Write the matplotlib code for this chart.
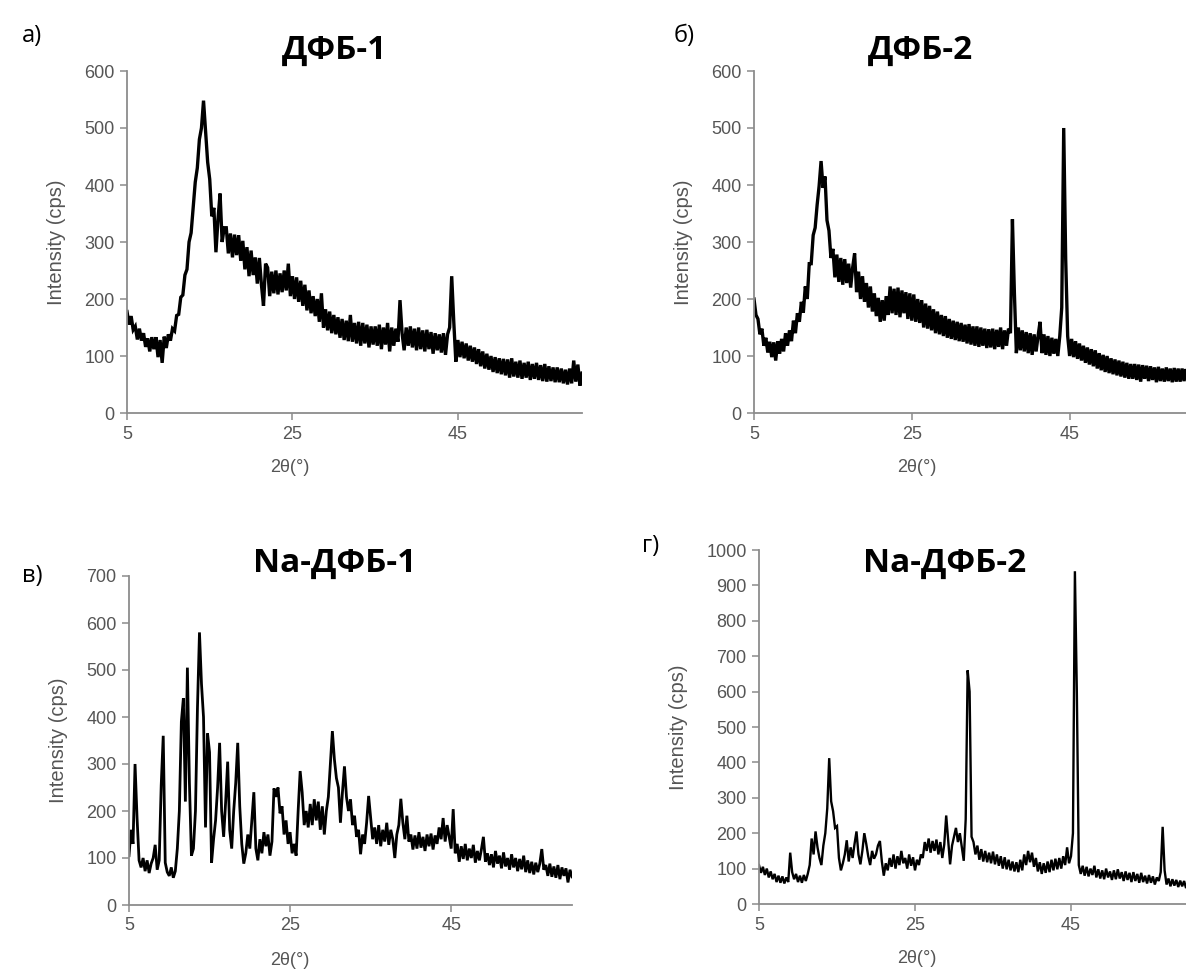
import matplotlib
matplotlib.use("Agg")
import matplotlib.pyplot as plt
import numpy as np

W, H = 1186, 972

# scan grid, deg 2theta
two_theta = np.round(np.arange(5.0, 60.001, 0.25), 2)

# intensities (cps), one row = 2 degrees
dfb1 = [
    178, 155, 170, 146, 152, 129, 148, 127,   # 5
    140, 116, 131, 108, 133, 112, 133, 98,    # 7
    128, 88, 134, 114, 138, 127, 148, 144,    # 9
    171, 173, 203, 207, 242, 252, 300, 316,   # 11
    360, 405, 430, 480, 500, 548, 495, 440,   # 13
    410, 345, 360, 282, 340, 385, 300, 325,   # 15
    325, 280, 315, 273, 313, 277, 312, 267,   # 17
    302, 252, 291, 240, 285, 242, 273, 227,   # 19
    272, 225, 188, 262, 255, 205, 248, 210,   # 21
    250, 208, 245, 212, 250, 215, 262, 205,   # 23
    240, 200, 238, 195, 232, 188, 225, 180,   # 25
    215, 175, 205, 170, 200, 160, 210, 150,   # 27
    182, 145, 178, 140, 172, 138, 168, 132,   # 29
    165, 128, 162, 126, 172, 125, 158, 122,   # 31
    160, 118, 158, 122, 155, 115, 152, 120,   # 33
    152, 118, 155, 112, 150, 120, 158, 108,   # 35
    150, 118, 148, 125, 198, 140, 110, 150,   # 37
    118, 152, 115, 148, 110, 150, 112, 145,   # 39
    108, 146, 112, 142, 104, 140, 110, 138,   # 41
    106, 140, 102, 138, 150, 240, 160, 90,    # 43
    128, 98, 125, 96, 122, 92, 118, 90,       # 45
    115, 86, 112, 82, 108, 78, 104, 76,       # 47
    100, 72, 98, 70, 96, 68, 95, 66,          # 49
    94, 62, 96, 64, 90, 62, 92, 60,           # 51
    88, 62, 90, 58, 86, 60, 88, 58,           # 53
    84, 56, 86, 55, 82, 56, 80, 54,           # 55
    80, 54, 78, 52, 76, 50, 78, 52,           # 57
    92, 55, 85, 48, 70,                       # 59
]

dfb2 = [
    200, 172, 165, 138, 148, 118, 132, 106,   # 5
    125, 98, 124, 92, 126, 104, 130, 108,     # 7
    140, 118, 145, 126, 162, 140, 175, 160,   # 9
    195, 176, 222, 200, 262, 262, 312, 325,   # 11
    365, 398, 442, 395, 415, 338, 320, 272,   # 13
    288, 238, 278, 230, 272, 225, 270, 228,   # 15
    262, 220, 255, 280, 212, 248, 200, 240,   # 17
    195, 228, 185, 222, 178, 210, 170, 202,   # 19
    160, 198, 162, 205, 172, 222, 175, 218,   # 21
    172, 220, 168, 215, 175, 212, 165, 210,   # 23
    162, 208, 160, 200, 158, 198, 150, 192,   # 25
    148, 188, 145, 182, 140, 178, 138, 172,   # 27
    135, 170, 132, 165, 130, 162, 128, 160,   # 29
    126, 158, 125, 155, 122, 156, 120, 152,   # 31
    118, 152, 116, 150, 118, 148, 114, 147,   # 33
    115, 148, 112, 146, 116, 150, 112, 145,   # 35
    118, 148, 140, 340, 210, 105, 150, 110,   # 37
    145, 108, 142, 105, 140, 102, 138, 108,   # 39
    135, 160, 105, 138, 102, 135, 100, 132,   # 41
    104, 130, 100, 135, 185, 500, 270, 135,   # 43
    100, 130, 98, 126, 95, 122, 92, 118,      # 45
    88, 115, 85, 112, 82, 110, 78, 105,       # 47
    75, 102, 72, 100, 70, 96, 68, 94,         # 49
    66, 92, 64, 90, 62, 88, 60, 86,           # 51
    60, 86, 58, 85, 55, 84, 60, 83,           # 53
    56, 82, 58, 80, 54, 81, 56, 78,           # 55
    55, 80, 56, 78, 54, 79, 55, 78,           # 57
    55, 78, 56, 77, 58,                       # 59
]

na_dfb1 = [
    105, 160, 130, 300, 185, 95, 80, 100,     # 5
    72, 95, 68, 88, 100, 128, 75, 95,         # 7
    255, 360, 90, 70, 62, 80, 58, 72,         # 9
    120, 200, 390, 440, 220, 505, 260, 105,   # 11
    120, 200, 420, 580, 470, 400, 165, 365,   # 13
    325, 90, 140, 180, 250, 345, 200, 145,    # 15
    220, 305, 160, 120, 200, 260, 345, 210,   # 17
    130, 88, 110, 150, 120, 180, 240, 120,    # 19
    95, 140, 110, 155, 125, 150, 105, 135,    # 21
    248, 230, 250, 195, 210, 150, 180, 130,   # 23
    155, 110, 130, 105, 200, 285, 240, 170,   # 25
    200, 165, 215, 170, 225, 180, 220, 160,   # 27
    210, 150, 200, 230, 300, 370, 310, 270,   # 29
    250, 175, 240, 295, 230, 200, 225, 170,   # 31
    190, 145, 160, 108, 150, 130, 175, 232,   # 33
    185, 140, 165, 130, 170, 125, 160, 135,   # 35
    175, 128, 160, 140, 100, 150, 170, 226,   # 37
    175, 140, 190, 135, 150, 118, 148, 120,   # 39
    155, 122, 145, 115, 150, 125, 152, 118,   # 41
    148, 130, 165, 140, 185, 135, 170, 145,   # 43
    120, 204, 110, 130, 92, 125, 98, 130,     # 45
    95, 120, 100, 128, 90, 115, 95, 118,      # 47
    145, 92, 110, 85, 108, 80, 115, 88,       # 49
    105, 78, 112, 82, 100, 75, 108, 80,       # 51
    100, 72, 98, 76, 105, 70, 95, 68,         # 53
    92, 65, 90, 70, 88, 119, 75, 85,          # 55
    62, 88, 60, 82, 58, 85, 55, 80,           # 57
    62, 78, 48, 75, 60,                       # 59
]

na_dfb2 = [
    110, 88, 105, 82, 100, 75, 92, 70,        # 5
    85, 62, 80, 60, 78, 58, 75, 62,           # 7
    145, 90, 70, 85, 62, 80, 60, 82,          # 9
    65, 85, 110, 185, 140, 205, 160, 130,     # 11
    110, 165, 200, 270, 412, 290, 262, 215,   # 13
    220, 130, 95, 115, 140, 180, 120, 160,    # 15
    130, 170, 205, 140, 112, 150, 200, 170,   # 17
    135, 110, 150, 128, 140, 165, 178, 120,   # 19
    80, 115, 95, 130, 105, 140, 100, 135,     # 21
    110, 150, 115, 130, 100, 140, 108, 132,   # 23
    95, 125, 110, 140, 130, 175, 150, 185,    # 25
    145, 178, 150, 182, 140, 175, 130, 168,   # 27
    250, 180, 112, 165, 190, 215, 175, 200,   # 29
    160, 122, 240, 660, 600, 190, 175, 140,   # 31
    165, 125, 155, 120, 150, 118, 145, 115,   # 33
    148, 112, 140, 108, 135, 100, 132, 98,    # 35
    125, 95, 120, 92, 118, 90, 125, 95,       # 37
    140, 110, 150, 118, 145, 105, 130, 92,    # 39
    118, 85, 115, 88, 120, 90, 125, 95,       # 41
    128, 98, 130, 100, 135, 110, 160, 115,    # 43
    135, 200, 940, 595, 110, 85, 108, 80,     # 45
    105, 78, 100, 82, 108, 75, 98, 72,        # 47
    95, 70, 100, 75, 92, 68, 95, 70,          # 49
    98, 72, 90, 65, 92, 68, 88, 62,           # 51
    90, 65, 85, 60, 88, 62, 80, 58,           # 53
    82, 60, 78, 55, 75, 65, 90, 218,          # 55
    95, 55, 72, 50, 70, 52, 68, 48,           # 57
    66, 50, 65, 45, 60,                       # 59
]

titles = ["ДФБ-1", "ДФБ-2", "Na-ДФБ-1", "Na-ДФБ-2"]
letters = ["а)", "б)", "в)", "г)"]
y_max = [600, 600, 700, 1000]
x_ticks = [5, 25, 45]

series = [dfb1, dfb2, na_dfb1, na_dfb2]

# pixel boxes of the plot areas: left, top, right, bottom
boxes = [(127, 71, 582, 413), (754, 71, 1188, 413),
         (129, 576, 572, 905), (759, 550, 1188, 904)]
title_pos = [(335, 50), (920, 50), (335, 563), (945, 563)]
letter_pos = [(32, 36), (684, 36), (32, 576), (651, 546)]
xlabel_pos = [(290, 468), (917, 468), (290, 960), (917, 958)]
line_w = [2.4, 2.4, 2.0, 1.7]

grey = "#8c8c8c"
txt = "#555555"
tick_font = "Liberation Sans"

fig = plt.figure(figsize=(W / 100, H / 100), dpi=100)

for i in range(4):
    l, t, r, b = boxes[i]
    ax = fig.add_axes([l / W, 1 - b / H, (r - l) / W, (b - t) / H])
    ax.plot(two_theta, series[i], color="black", lw=line_w[i],
            solid_joinstyle="miter")
    ax.set_xlim(5, 60)
    ax.set_ylim(0, y_max[i])
    ax.set_xticks(x_ticks)
    ax.set_yticks(np.arange(0, y_max[i] + 1, 100))
    for s in ["top", "right"]:
        ax.spines[s].set_visible(False)
    for s in ["left", "bottom"]:
        ax.spines[s].set_color(grey)
        ax.spines[s].set_linewidth(1.3)
    ax.tick_params(direction="out", length=5, width=1.1, color=grey,
                   labelcolor=txt, labelsize=13, pad=4)
    for lab in ax.get_xticklabels() + ax.get_yticklabels():
        lab.set_fontfamily(tick_font)
    ax.set_ylabel("Intensity (cps)", fontsize=14.5, color=txt,
                  fontfamily=tick_font, labelpad=13)

    x, y = xlabel_pos[i]
    fig.text(x / W, 1 - y / H, "2θ(°)", ha="center", va="center",
             fontsize=13, color=txt, fontfamily=tick_font)
    x, y = title_pos[i]
    fig.text(x / W, 1 - y / H, titles[i], ha="center", va="center",
             fontsize=24, fontweight="bold", fontfamily="Open Sans", color="black")
    x, y = letter_pos[i]
    fig.text(x / W, 1 - y / H, letters[i], ha="center", va="center",
             fontsize=17, fontfamily="Open Sans", color="black")

fig.savefig("out.png", dpi=100, facecolor="white")
